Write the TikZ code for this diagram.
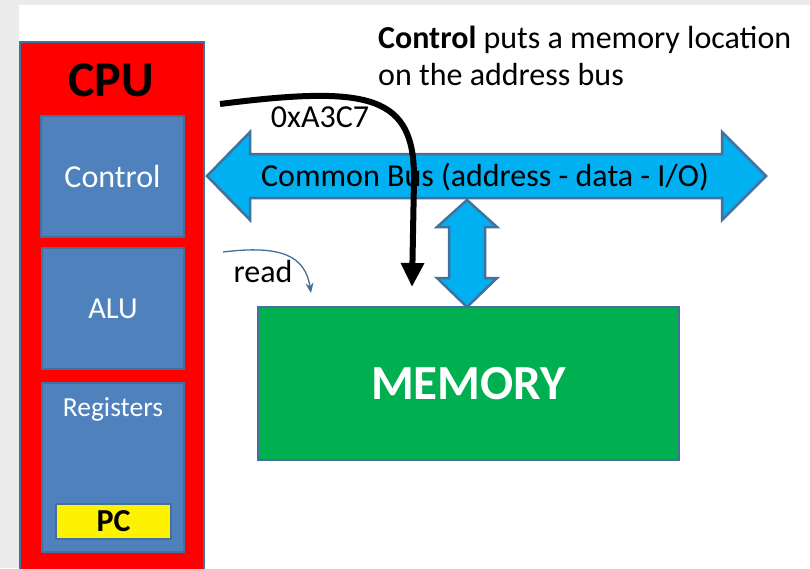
\documentclass[tikz,border=0pt]{standalone}
\usepackage{fontspec}
\setmainfont{Carlito}
\usetikzlibrary{arrows.meta}
\definecolor{boxblue}{HTML}{4F81BD}
\definecolor{edgeblue}{HTML}{41719C}
\definecolor{busblue}{HTML}{00B0F0}
\definecolor{memgreen}{HTML}{00B050}
\tikzset{
	unitbox/.style={rectangle, draw=edgeblue, fill=boxblue, line width=2.5pt, inner sep=0pt, text=white, font=\fontsize{32}{36}\selectfont},
	busshape/.style={draw=edgeblue, fill=busblue, line width=2.5pt, line join=miter},
}
\begin{document}
\begin{tikzpicture}[x=1pt, y=-1pt]
		\useasboundingbox (0,0) rectangle (810,568);
		\clip (0,0) rectangle (810,568);
		\fill[black!8] (0,0) rectangle (810,568);
		\fill[white] (19,5) rectangle (810,568);

		% CPU
		\draw[draw=edgeblue, fill=red, line width=2.5pt] (20,42) rectangle (204,590);
		\node (cpu) at (111,80) {\fontsize{50}{54}\selectfont\bfseries CPU};
		\node (control) [unitbox, minimum width=143pt, minimum height=121pt] at (112.5,176.5) {Control};
		\node (alu) [unitbox, minimum width=142pt, minimum height=121pt, font=\fontsize{30.5}{34}\selectfont] at (113,308.5) {ALU};
		\node (registers) [unitbox, minimum width=142pt, minimum height=169pt] at (113,467.5) {};
		\node (reglabel) [text=white, font=\fontsize{27.5}{30}\selectfont] at (113,409) {Registers};
		\node (pc) [rectangle, draw=edgeblue, fill=yellow, line width=2.5pt, minimum width=115pt, minimum height=35pt, inner sep=0pt, font=\fontsize{32}{34}\selectfont\bfseries] at (113.5,521.5) {PC};

		% memory
		\node (memory) [rectangle, draw=edgeblue, fill=memgreen, line width=2.5pt, minimum width=421pt, minimum height=153pt, inner sep=0pt, text=white, font=\fontsize{49}{53}\selectfont\bfseries] at (468.5,383.5) {MEMORY};

		% common bus
		\draw[busshape] (207,176) -- (250,132) -- (250,154) -- (722,154) -- (722,132) -- (766,176) -- (722,220) -- (722,198) -- (250,198) -- (250,220) -- cycle;
		\node (bus) [font=\fontsize{32}{36}\selectfont] at (485,177) {Common Bus (address - data - I/O)};
		\draw[busshape] (467,200) -- (497,227) -- (485,227) -- (485,278) -- (497,278) -- (467,307) -- (437,278) -- (449,278) -- (449,227) -- (437,227) -- cycle;

		% address from control to memory
		\coordinate (addrstart) at (220,104);
		\coordinate (addrend) at (412,287);
		\draw[line width=6pt, -{Triangle[length=24pt, width=22pt]}] (addrstart) .. controls (370,85) and (415,95) .. (414,180) -- (addrend);
		\node (address) [font=\fontsize{32}{36}\selectfont] at (320,117) {0xA3C7};

		% read
		\coordinate (readstart) at (223,252);
		\coordinate (readend) at (311,293);
		\draw[edgeblue, line width=1.3pt, -{Stealth[length=10pt, width=8pt]}] (readstart) .. controls (280,245) and (305,255) .. (readend);
		\node (read) [font=\fontsize{32}{36}\selectfont] at (263,272) {read};

		\node (note) [anchor=north west, align=left, inner sep=0pt, font=\fontsize{32}{37}\selectfont] at (378,26) {\textbf{Control} puts a memory location\\on the address bus};
	\end{tikzpicture}
\end{document}
